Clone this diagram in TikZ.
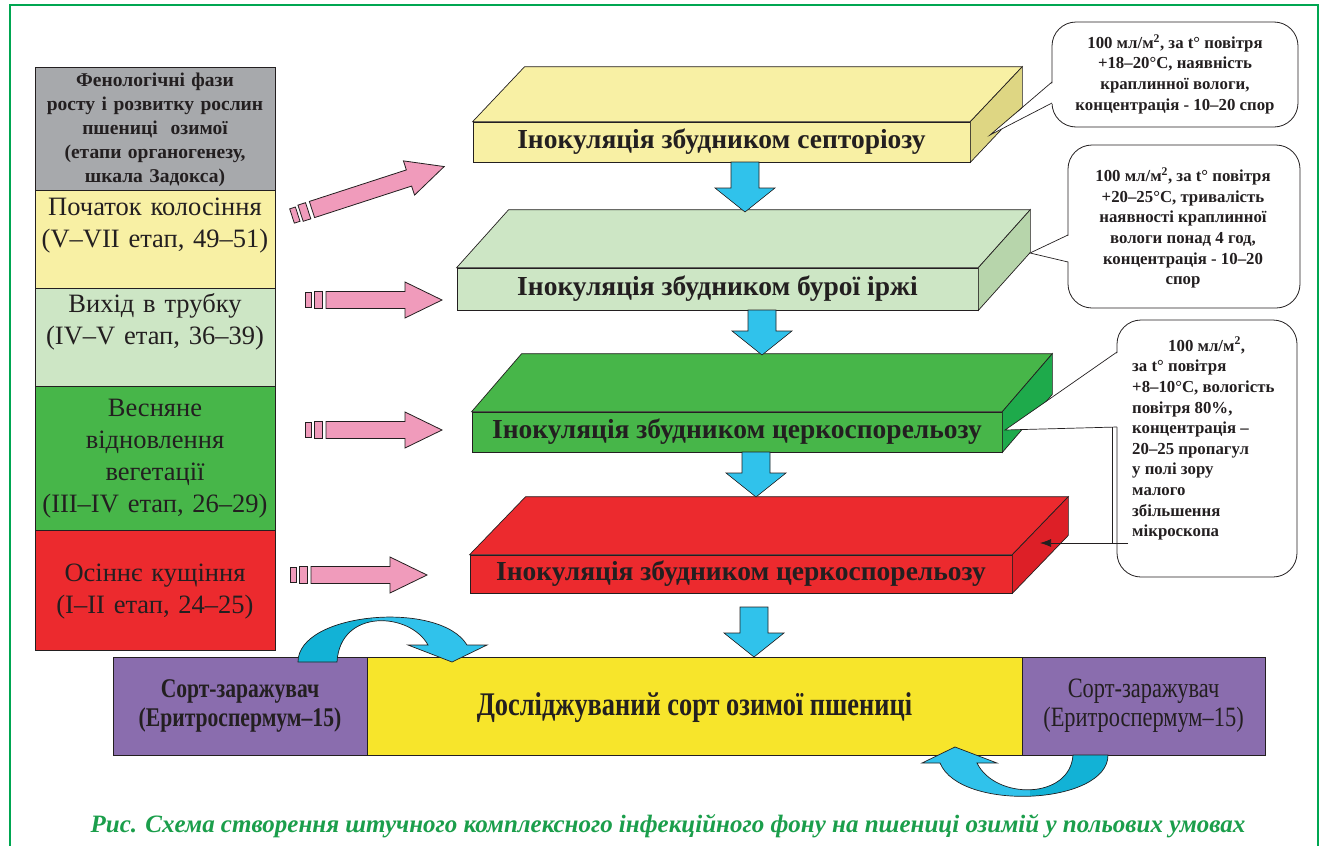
\documentclass[tikz,border=0pt]{standalone}
\usepackage{fontspec}
\setmainfont{Liberation Serif}
\newfontfamily\condfont[FakeStretch=0.80,Ligatures=TeX]{Liberation Serif}
\usetikzlibrary{arrows.meta}
\definecolor{txt}{HTML}{231F20}
\definecolor{cgray}{HTML}{A7A9AC}
\definecolor{cyel}{HTML}{F8F0A4}
\definecolor{clgr}{HTML}{CDE6C5}
\definecolor{cgrn}{HTML}{47B649}
\definecolor{cred}{HTML}{EC2A2E}
\definecolor{s1side}{HTML}{DED683}
\definecolor{s2side}{HTML}{B7D5AB}
\definecolor{s3side}{HTML}{1EAA4B}
\definecolor{s4side}{HTML}{DD1F27}
\definecolor{cpur}{HTML}{8A6DAE}
\definecolor{cyb}{HTML}{F7E52B}
\definecolor{blueL}{HTML}{30C2EB}
\definecolor{blueD}{HTML}{12B2D6}
\definecolor{pinkA}{HTML}{F09BBB}
\definecolor{frameg}{HTML}{00A651}
\definecolor{capg}{HTML}{1B9E4B}
\newcommand\slabfaces[5]{%
  \draw[facedraw, fill=#4] (#1.north west) -- ([shift={(#2,-#3)}]#1.north west) -- ([shift={(#2,-#3)}]#1.north east) -- (#1.north east) -- cycle;
  \draw[facedraw, fill=#5] (#1.north east) -- ([shift={(#2,-#3)}]#1.north east) -- ([shift={(#2,-#3)}]#1.south east) -- (#1.south east) -- cycle;}
\newcommand\pinkarr[4]{%
  \begin{scope}[shift={(#1,#2)}, rotate=#3]
    \draw[pinkst] (0,-7.5) -- (6,-7.5) -- (6,7.5) -- (0,7.5) -- cycle;
    \draw[pinkst] (9,-8.5) -- (17,-8.5) -- (17,8.5) -- (9,8.5) -- cycle;
    \draw[pinkst] (21,-8.5) -- ({#4-37},-8.5) -- ({#4-37},-18) -- (#4,0) -- ({#4-37},18) -- ({#4-37},8.5) -- (21,8.5) -- cycle;
  \end{scope}}
\newcommand\bluedown[3]{%
  \draw[bluest] ({#1-14},#2) -- ({#1+14},#2) -- ({#1+14},{#3-24}) -- ({#1+30},{#3-24}) -- (#1,#3) -- ({#1-30},{#3-24}) -- ({#1-14},{#3-24}) -- cycle;}
\newcommand\callout[7]{%
  \draw[callst] (#1,#2) rectangle (#3,#4);
  \fill[white] #7 -- ({#1+2},#5) -- ({#1+2},#6) -- cycle;
  \draw[line width=0.7pt, draw=txt] (#1,#5) -- #7 -- (#1,#6);}
\begin{document}
\begin{tikzpicture}[x=1pt,y=-1pt,
  cell/.style={draw=txt, line width=0.6pt, inner sep=0pt, minimum width=240pt},
  celltext/.style={text=txt, align=center, text width=238pt, inner sep=0pt, font=\fontsize{26.5}{32}\selectfont},
  front/.style={draw=txt, line width=0.7pt, inner sep=0pt, text=txt, font=\fontsize{27.5}{30}\selectfont\bfseries},
  facedraw/.style={draw=txt, line width=0.7pt},
  pinkst/.style={draw=txt, line width=0.8pt, fill=pinkA},
  bluest/.style={draw=txt, line width=0.6pt, fill=blueL},
  callst/.style={draw=txt, line width=0.8pt, fill=white, rounded corners=24pt},
  calltext/.style={text=txt, inner sep=0pt, font=\fontsize{16.8}{20.6}\selectfont\bfseries},
  bottom/.style={draw=txt, line width=0.7pt, inner sep=0pt, minimum height=98pt},
  botsmall/.style={text=txt, align=center, font=\condfont\fontsize{28}{29}\selectfont},
]
\useasboundingbox (0,0) rectangle (1328,846);
\draw[frameg, line width=2pt] (10,880) -- (10,5) -- (1318,5) -- (1318,880);

% left column
\node[cell, fill=cgray, minimum height=123pt] (c0) at (155,128.5) {};
\node[cell, fill=cyel, minimum height=98pt] (c1) at (155,239) {};
\node[cell, fill=clgr, minimum height=98pt] (c2) at (155,337) {};
\node[cell, fill=cgrn, minimum height=144pt] (c3) at (155,458) {};
\node[cell, fill=cred, minimum height=120pt] (c4) at (155,590) {};
\node[celltext, font=\fontsize{19.5}{24}\selectfont\bfseries] (t0) at (155,130) {Фенологічні фази\\ росту і розвитку рослин\\ пшениці\ \ озимої\\ (етапи органогенезу,\\ шкала Задокса)};
\node[celltext] (t1) at (155,226) {Початок колосіння\\(V--VII етап, 49--51)};
\node[celltext] (t2) at (155,322) {Вихід в трубку\\(IV--V етап, 36--39)};
\node[celltext] (t3) at (155,459) {Весняне\\відновлення\\вегетації\\(III--IV етап, 26--29)};
\node[celltext] (t4) at (155,592) {Осіннє кущіння\\(I--II етап, 24--25)};

% pink arrows
\pinkarr{292}{216}{18}{160}
\pinkarr{305}{300}{0}{137}
\pinkarr{305}{430}{0}{137}
\pinkarr{290}{575}{0}{137}

% slabs
\node[front, fill=cyel, minimum width=497pt, minimum height=40pt] (s1) at (721.5,142) {Інокуляція збудником септоріозу};
\slabfaces{s1}{52}{55}{cyel}{s1side}
\node[front, fill=clgr, minimum width=521pt, minimum height=42pt] (s2) at (717.5,289) {Інокуляція збудником бурої іржі};
\slabfaces{s2}{52}{58}{clgr}{s2side}
\node[front, fill=cgrn, minimum width=530pt, minimum height=40pt] (s3) at (737,432) {Інокуляція збудником церкоспорельозу};
\slabfaces{s3}{50}{58}{cgrn}{s3side}
\node[front, fill=cred, minimum width=542pt, minimum height=38pt] (s4) at (741,574) {Інокуляція збудником церкоспорельозу};
\slabfaces{s4}{56}{58}{cred}{s4side}

% blue down arrows
\bluedown{745}{162}{212}
\bluedown{762}{310}{355}
\bluedown{756}{452}{497}
\bluedown{754}{607}{657}

% callouts
\callout{1052}{22}{1298}{127}{82}{103}{(990,135)}
\node[calltext, align=center] (n1) at (1175,74) {100 мл/м\textsuperscript{2}, за t° повітря\\ +18--20°С, наявність\\ краплинної вологи,\\ концентрація - 10--20 спор};
\callout{1068}{145}{1300}{308}{235}{262}{(1030,253)}
\node[calltext, align=center] (n2) at (1183,228) {100 мл/м\textsuperscript{2}, за t° повітря\\ +20--25°С, тривалість\\ наявності краплинної\\ вологи понад 4 год,\\ концентрація - 10--20\\ спор};
\callout{1117}{320}{1297}{577}{352}{427}{(1005,430)}
\node[calltext, align=left, anchor=north west] (n3) at (1132,337) {\hspace*{36pt}100 мл/м\textsuperscript{2},\\ за t° повітря\\ +8--10°С, вологість\\ повітря 80\%,\\ концентрація --\\ 20--25 пропагул\\ у полі зору\\ малого\\ збільшення\\ мікроскопа};
\coordinate (k1) at (1112,427);
\coordinate (k2) at (1112,543);
\coordinate (k3) at (1128,543);
\coordinate (k4) at (1040,543);
\draw[line width=0.7pt, draw=txt] (k1) -- (k2);
\draw[line width=0.7pt, draw=txt, -{Latex[length=11pt,width=8pt]}] (k3) -- (k4);

% bottom row
\node[bottom, fill=cpur, minimum width=254pt] (b1) at (240,706) {};
\node[bottom, fill=cyb, minimum width=655pt] (b2) at (694.5,706) {};
\node[bottom, fill=cpur, minimum width=243pt] (b3) at (1143.5,706) {};
\node[botsmall, font=\condfont\fontsize{27}{29}\selectfont\bfseries] (b1t) at (b1.center) {Сорт-заражувач\\(Еритроспермум--15)};
\node[text=txt, font=\condfont\fontsize{33}{36}\selectfont\bfseries] (b2t) at (694.5,708) {Досліджуваний сорт озимої пшениці};
\node[botsmall] (b3t) at (b3.center) {Сорт-заражувач\\(Еритроспермум--15)};

% curved arrows
\def\curveA{(298,662) .. controls (298,612) and (440,600) .. (467,645) -- (487,645) -- (452,662) -- (408,645) -- (428,645) .. controls (410,612) and (340,608) .. (337,662) -- cycle}
\fill[blueL] \curveA;
\begin{scope}\clip (280,590) rectangle (372,680); \fill[blueD] \curveA; \end{scope}
\draw[line width=0.7pt, draw=txt] \curveA;
\def\curveB{(1108,755) .. controls (1108,805) and (960,812) .. (940,763) -- (922,763) -- (955,747) -- (997,763) -- (977,763) .. controls (995,800) and (1070,800) .. (1073,755) -- cycle}
\fill[blueL] \curveB;
\begin{scope}\clip (1030,740) rectangle (1130,820); \fill[blueD] \curveB; \end{scope}
\draw[line width=0.7pt, draw=txt] \curveB;

% caption
\node[text=capg, font=\fontsize{25}{28}\selectfont\bfseries\itshape] (cap) at (668,826) {Рис. Схема створення штучного комплексного інфекційного фону на пшениці озимій у польових умовах};
\end{tikzpicture}
\end{document}
